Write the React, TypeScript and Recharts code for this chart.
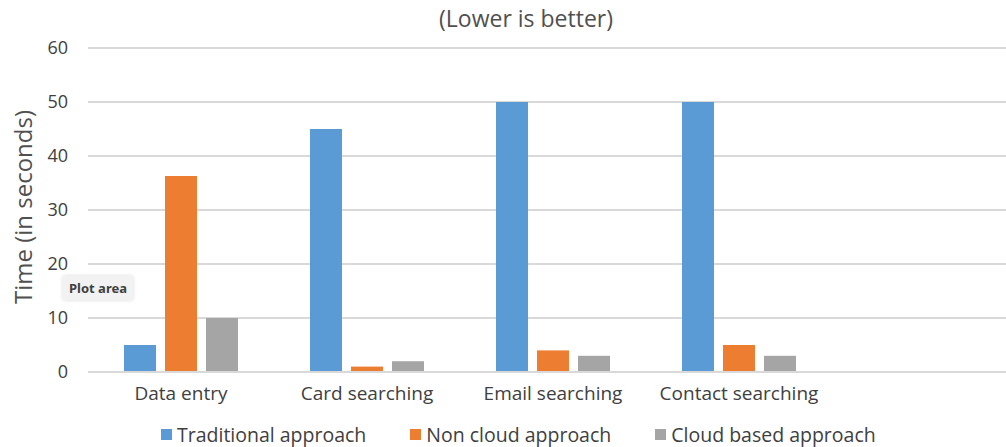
import { BarChart, Bar, XAxis, YAxis, CartesianGrid, Legend } from "recharts";

const categories = ["Data entry", "Card searching", "Email searching", "Contact searching"];
const traditional = [5, 45, 50, 50];
const nonCloud = [36.3, 1, 4, 5];
const cloudBased = [10, 2, 3, 3];
const yTicks = [0, 10, 20, 30, 40, 50, 60];

const series = [
  { key: "traditional", name: "Traditional approach", color: "#5B9BD5" },
  { key: "nonCloud", name: "Non cloud approach", color: "#ED7D31" },
  { key: "cloudBased", name: "Cloud based approach", color: "#A5A5A5" },
];

const chartData = categories.map((c, i) => ({
  category: c,
  traditional: traditional[i],
  nonCloud: nonCloud[i],
  cloudBased: cloudBased[i],
}));

const font = "'Open Sans', 'Noto Sans', sans-serif";
const textColor = "#404040";

function LegendContent({ payload }: any) {
  const items = series
    .map((s) => (payload || []).find((p: any) => p.dataKey === s.key))
    .filter(Boolean);
  return (
    <div style={{ display: "flex", justifyContent: "flex-start", paddingLeft: 161, fontFamily: font, height: 26, alignItems: "center" }}>
      {items.map((p: any, i: number) => (
        <div key={i} style={{ display: "flex", alignItems: "center", marginRight: 44 }}>
          <span style={{ width: 11, height: 11, background: p.color, display: "inline-block", marginRight: 5 }} />
          <span style={{ fontSize: 19.5, color: textColor }}>{p.value}</span>
        </div>
      ))}
    </div>
  );
}

export default function App() {
  return (
    <div style={{ position: "absolute", left: 0, top: 0, width: 1006, height: 447, background: "#fff", fontFamily: font }}>
      <div style={{ position: "absolute", left: 0, width: 1052, top: 2, textAlign: "center", fontSize: 23, color: "#505050" }}>
        (Lower is better)
      </div>
      <div
        style={{
          position: "absolute",
          left: 22,
          top: 207,
          transform: "translate(-50%, -50%) rotate(-90deg)",
          whiteSpace: "nowrap",
          fontSize: 24,
          color: "#505050",
        }}
      >
        Time (in seconds)
      </div>
      <BarChart
        width={1006}
        height={447}
        data={chartData}
        margin={{ top: 48, right: 0, left: 0, bottom: 0 }}
        barSize={32}
        barGap={9}
      >
        <CartesianGrid vertical={false} stroke="#D9D9D9" strokeWidth={2} />
        <XAxis
          dataKey="category"
          height={49}
          padding={{ left: 0, right: 174 }}
          tickLine={false}
          tickSize={0}
          tickMargin={15}
          axisLine={{ stroke: "#D9D9D9", strokeWidth: 2 }}
          tick={{ fill: textColor, fontSize: 19, fontFamily: font }}
        />
        <YAxis
          width={88}
          domain={[0, 60]}
          ticks={yTicks}
          axisLine={false}
          tickLine={false}
          tickSize={0}
          tickMargin={20}
          tick={{ fill: textColor, fontSize: 18, fontFamily: font }}
        />
        <Legend verticalAlign="bottom" content={<LegendContent />} />
        {series.map((s) => (
          <Bar key={s.key} dataKey={s.key} name={s.name} fill={s.color} isAnimationActive={false} />
        ))}
      </BarChart>
      <div
        style={{
          position: "absolute",
          left: 63,
          top: 276,
          padding: "3px 6px",
          background: "#F2F2F2",
          boxShadow: "0 0 4px rgba(0,0,0,0.15)",
          fontSize: 13,
          fontWeight: 700,
          color: "#404040",
          fontFamily: "'Noto Sans', sans-serif",
        }}
      >
        Plot area
      </div>
    </div>
  );
}
